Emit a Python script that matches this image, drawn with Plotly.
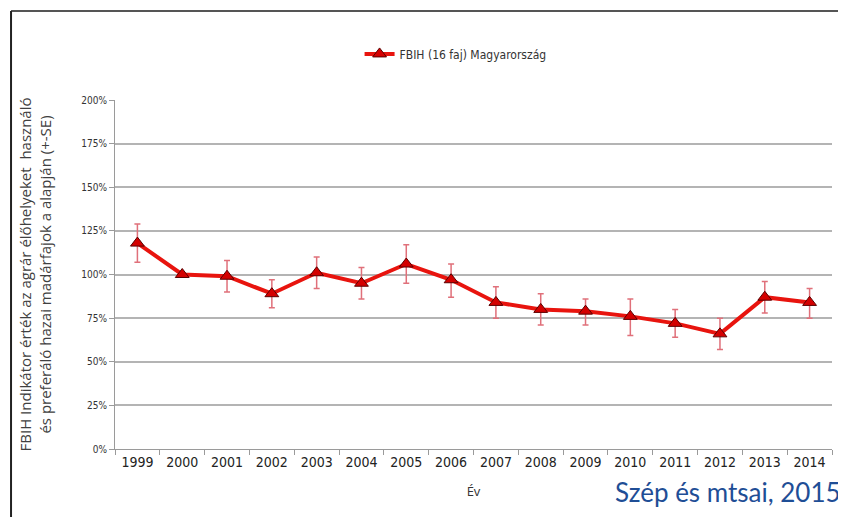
import plotly.graph_objects as go

years = ["1999", "2000", "2001", "2002", "2003", "2004", "2005", "2006",
         "2007", "2008", "2009", "2010", "2011", "2012", "2013", "2014"]
values = [118, 100, 99, 89, 101, 95, 106, 97, 84, 80, 79, 76, 72, 66, 87, 84]
err_plus = [11, 0, 9, 8, 9, 9, 11, 9, 9, 9, 7, 10, 8, 9, 9, 8]
err_minus = [11, 0, 9, 8, 9, 9, 11, 10, 9, 9, 8, 11, 8, 9, 9, 9]
y_ticks = [0, 25, 50, 75, 100, 125, 150, 175, 200]
y_tick_text = [f"{t}%" for t in y_ticks]
series_name = "FBIH (16 faj) Magyarország"

narrow = "DejaVu Sans Condensed, Liberation Sans, sans-serif"

fig = go.Figure()
fig.add_trace(go.Scatter(
    x=years, y=values, name=series_name, mode="lines+markers",
    line=dict(color="#e8140e", width=4),
    marker=dict(symbol="triangle-up", size=12, color="#d40000",
                line=dict(color="#5a0000", width=1)),
    error_y=dict(type="data", symmetric=False, array=err_plus,
                 arrayminus=err_minus, color="#e0707a", thickness=1.5, width=3),
))

fig.update_layout(
    width=846, height=517,
    margin=dict(l=107, r=22, t=92, b=76, autoexpand=False),
    paper_bgcolor="white", plot_bgcolor="white",
    showlegend=True,
    legend=dict(orientation="h", x=0.475, xanchor="center", y=1.132, yanchor="middle",
                font=dict(family=narrow, size=12, color="#333333"),
                bgcolor="rgba(0,0,0,0)", itemwidth=30),
    xaxis=dict(type="category", range=[-0.5, len(years) - 0.5],
               showline=True, linecolor="#9a9a9a", linewidth=1,
               ticks="outside", tickson="boundaries", ticklen=5, tickcolor="#9a9a9a",
               showgrid=False, tickangle=0,
               tickfont=dict(family=narrow, size=14, color="#222222"),
               title=dict(text="Év", font=dict(family="Open Sans, sans-serif", size=13,
                                               color="#333333"), standoff=18)),
    yaxis=dict(range=[0, 200], tickvals=y_ticks, ticktext=y_tick_text,
               showline=True, linecolor="#9a9a9a", linewidth=1,
               ticks="outside", ticklen=5, tickcolor="#9a9a9a",
               showgrid=True, gridcolor="#b4b4b4", gridwidth=1.5,
               zeroline=False,
               tickfont=dict(family=narrow, size=10, color="#333333"),
               title=dict(text="FBIH Indikátor érték az agrár élőhelyeket  használó<br>és preferáló hazai madárfajok a alapján (+-SE)",
                          font=dict(family="Open Sans, sans-serif", size=15, color="#404040"),
                          standoff=26)),
    shapes=[
        dict(type="line", xref="paper", yref="paper", x0=-0.145, x1=1.03,
             y0=1.255, y1=1.255, line=dict(color="#555555", width=2)),
        dict(type="line", xref="paper", yref="paper", x0=-0.145, x1=-0.145,
             y0=1.255, y1=-0.25, line=dict(color="#222222", width=2)),
    ],
    annotations=[
        dict(text="Szép és mtsai, 2015", xref="paper", yref="paper",
             x=1.016, y=-0.123, xanchor="right", yanchor="middle", showarrow=False,
             font=dict(family="Lato, sans-serif", size=26, color="#1f4e96")),
    ],
)

fig.write_html("out.html")
